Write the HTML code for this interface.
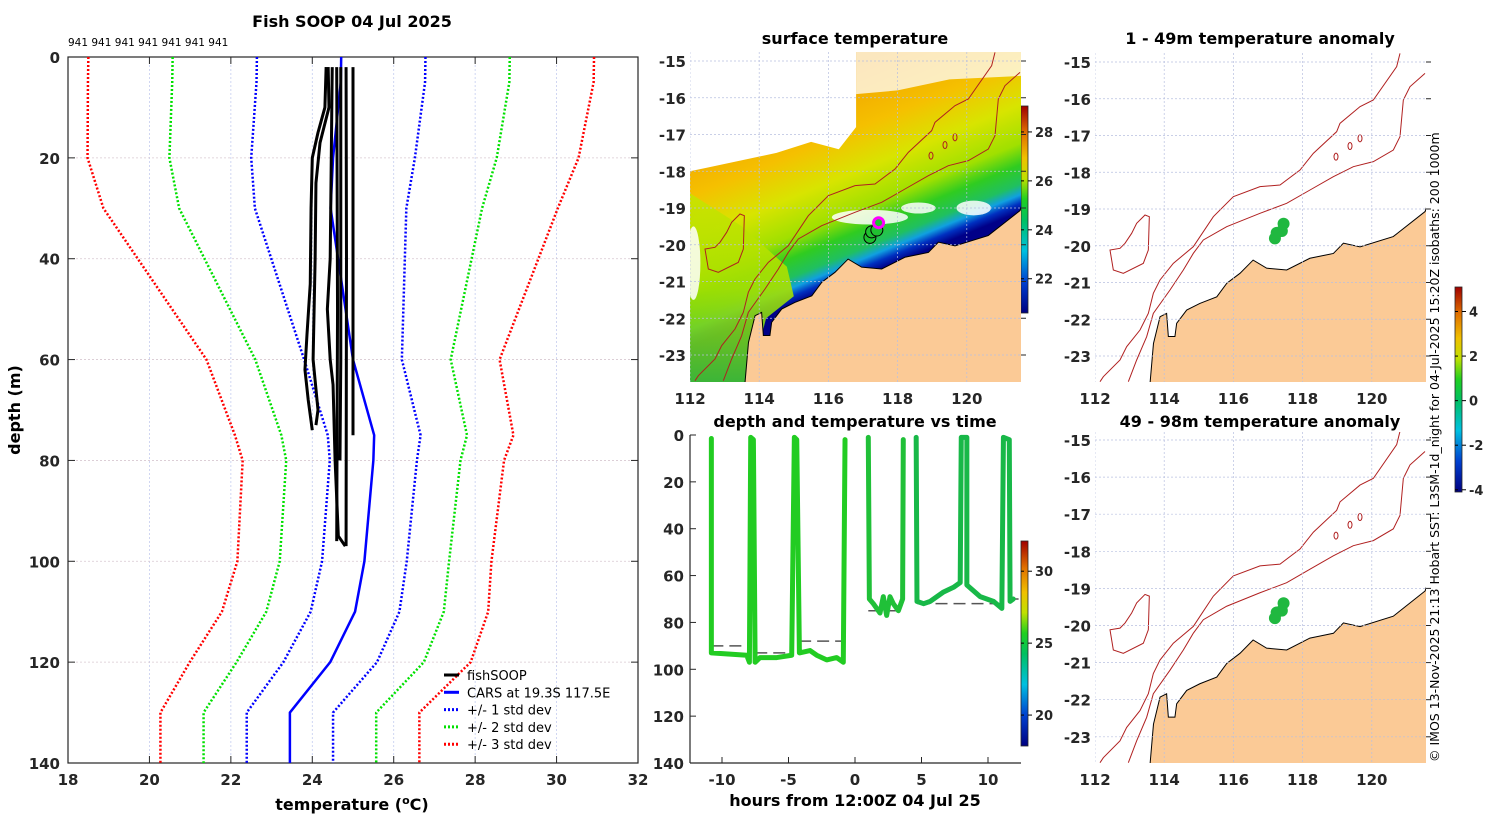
<!DOCTYPE html>
<html><head><meta charset="utf-8">
<style>
html,body{margin:0;padding:0;background:#fff;width:1500px;height:820px;overflow:hidden}
svg{display:block;font-family:"DejaVu Sans","Liberation Sans",sans-serif}
.tk{font-size:15px;font-weight:bold;fill:#262626}
.ttl{font-size:16px;font-weight:bold;fill:#000}
.lg{font-size:13px;fill:#000}
</style></head>
<body>
<svg id="s" width="1500" height="820" viewBox="0 0 1500 820" xmlns="http://www.w3.org/2000/svg">
<defs>
<linearGradient id="jetV" x1="0" y1="1" x2="0" y2="0">
<stop offset="0" stop-color="#000080"/><stop offset="0.15" stop-color="#0040d0"/><stop offset="0.3" stop-color="#00c0e0"/><stop offset="0.45" stop-color="#00c060"/><stop offset="0.55" stop-color="#20d020"/><stop offset="0.65" stop-color="#c0e000"/><stop offset="0.75" stop-color="#f0c000"/><stop offset="0.87" stop-color="#e07000"/><stop offset="1" stop-color="#a00000"/>
</linearGradient>
<linearGradient id="sstG" gradientUnits="userSpaceOnUse" x1="825" y1="77" x2="900" y2="261">
<stop offset="0" stop-color="#f0a000"/><stop offset="0.3" stop-color="#f5c000"/><stop offset="0.5" stop-color="#d8e400"/><stop offset="0.68" stop-color="#a0e000"/><stop offset="0.78" stop-color="#30cc20"/><stop offset="0.87" stop-color="#20c060"/><stop offset="0.92" stop-color="#10a0e0"/><stop offset="0.96" stop-color="#0030c0"/><stop offset="1" stop-color="#000088"/>
</linearGradient>
<linearGradient id="swG" x1="0" y1="0" x2="0" y2="1">
<stop offset="0" stop-color="#c8e400"/><stop offset="0.5" stop-color="#a8e000"/><stop offset="1" stop-color="#40c830"/>
</linearGradient>
<clipPath id="c1"><rect x="690" y="52" width="331" height="330"/></clipPath>
<clipPath id="c2"><rect x="1095" y="53" width="331" height="329"/></clipPath>
<clipPath id="c3"><rect x="1095" y="432" width="331" height="331"/></clipPath>
</defs>
<text x="352" y="27" text-anchor="middle" class="ttl">Fish SOOP 04 Jul 2025</text>
<text x="68" y="46" style="font-size:10.5px">941 941 941 941 941 941 941</text>
<text transform="translate(20,410) rotate(-90)" text-anchor="middle" class="ttl">depth (m)</text>
<text x="352" y="810" text-anchor="middle" class="ttl">temperature (<tspan dy="-6" style="font-size:11px">o</tspan><tspan dy="6">C)</tspan></text>
<text x="855" y="44" text-anchor="middle" class="ttl">surface temperature</text>
<text x="855" y="427" text-anchor="middle" class="ttl">depth and temperature vs time</text>
<text x="855" y="806" text-anchor="middle" class="ttl">hours from 12:00Z 04 Jul 25</text>
<text x="1260" y="44" text-anchor="middle" class="ttl">1 - 49m temperature anomaly</text>
<text x="1260" y="427" text-anchor="middle" class="ttl">49 - 98m temperature anomaly</text>
<text transform="translate(1439,762) rotate(-90)" style="font-size:12.5px">© IMOS 13-Nov-2025 21:13 Hobart SST: L3SM-1d_night for 04-Jul-2025 15:20Z isobaths: 200  1000m</text>
<g id="g"></g>
</svg>
<script>
// ---------- profile panel data ----------
const carsDepth=[0,5,20,30,60,75,80,100,110,120,130,140];
const carsMean=[24.71,24.7,24.51,24.45,25.0,25.52,25.5,25.28,25.05,24.44,23.45,23.45];
const carsStd=[2.07,2.07,2.01,1.86,1.2,1.14,1.07,1.04,1.09,1.15,1.06,1.06];
const prof1Depth=[2,75];const prof1Temp=[25.0,25.0];
const prof2Depth=[2,40,97];const prof2Temp=[24.83,24.84,24.83];
const prof3Depth=[2,60,80];const prof3Temp=[24.7,24.7,24.68];
const prof4Depth=[2,50,96];const prof4Temp=[24.6,24.62,24.6];
const prof5Depth=[2,10,15,20,30,45,55,62,68,74];const prof5Temp=[24.34,24.31,24.14,24.0,23.97,23.95,23.87,23.82,23.9,24.0];
const prof6Depth=[2,10,17,25,40,60,70,73];const prof6Temp=[24.39,24.41,24.19,24.09,24.07,24.02,24.14,24.09];
const prof7Depth=[2,40,50,60,65,80,95,97];const prof7Temp=[24.49,24.44,24.37,24.44,24.51,24.56,24.64,24.81];
const tempTicks=[18,20,22,24,26,28,30,32];
const depthTicks=[0,20,40,60,80,100,120,140];
// ---------- time panel data ----------
const tHours=[-10.8,-10.8,-8.14,-7.94,-7.84,-7.64,-7.51,-7.14,-5.88,-4.76,-4.56,-4.38,-4.18,-3.38,-2.88,-2.13,-1.38,-0.88,-0.75];
const tDepth=[1.5,93,94,97,1,2,97,95,95,94,1,2,93,92,94,96,95,97,2];
const t2Hours=[1.0,1.08,1.38,1.88,2.13,2.38,2.63,2.88,3.26,3.58,3.63];
const t2Depth=[1,70,72,76,69,77,69,72,75,70,2];
const t3Hours=[4.6,4.66,5.16,5.66,6.66,7.41,7.91,7.99,8.41,8.41,9.41,10.41,11.04,11.16,11.6,11.66,11.9];
const t3Depth=[1,71,72,71,67,65,63,1,1,64,69,71,74,1,2,71,70];
const bottomStart=[-10.8,-7.5,-4.2,1.0,4.7,11.5];
const bottomEnd=[-8.0,-4.7,-0.9,3.6,11.0,12.3];
const bottomDepth=[90,93,88,75,72,70];
const hourTicks=[-10,-5,0,5,10];
const tdTicks=[0,20,40,60,80,100,120,140];
// ---------- map data ----------
const coastLon=[121.6,121.54,120.62,119.66,119.18,118.89,118.21,117.54,116.96,116.57,116.19,115.81,115.52,115.03,114.65,114.36,114.31,114.12,114.07,113.88,113.69,113.59];
const coastLat=[-18.9,-19.07,-19.75,-20.03,-19.93,-20.21,-20.34,-20.66,-20.61,-20.39,-20.75,-21.02,-21.39,-21.57,-21.75,-22.11,-22.47,-22.47,-21.84,-21.93,-22.66,-23.75];
const iso1000Z=[[1020,70],[1010,110],[940,210],[900,230],[840,280],[830,305],[760,370],[720,420],[660,465],[600,470],[520,500],[460,560],[420,620],[400,650],[340,700],[300,750],[280,790],[265,850],[240,900],[200,950],[180,990],[130,1040],[120,1055]];
const iso200Z=[[1095,130],[1050,170],[1030,210],[1020,320],[1000,360],[940,395],[880,410],[820,440],[750,480],[680,520],[600,550],[500,590],[430,630],[400,670],[370,720],[330,780],[280,850],[260,920],[230,990],[205,1055]];
const islandZ=[[150,660],[160,720],[190,730],[250,700],[265,660],[268,560],[255,555],[230,580],[215,610],[195,640],[180,655]];
const obsLon=[117.2,117.25,117.4,117.45];
const obsLat=[-19.8,-19.65,-19.6,-19.4];
const lonTicks=[112,114,116,118,120];
const latTicks=[-15,-16,-17,-18,-19,-20,-21,-22,-23];

const G=document.getElementById('g');
const NS='http://www.w3.org/2000/svg';
function mk(tag,at,parent){const e=document.createElementNS(NS,tag);for(const k in at)e.setAttribute(k,at[k]);(parent||G).appendChild(e);return e;}
function txt(x,y,s,cls,anchor,parent){const e=mk('text',{x:x,y:y,class:cls,'text-anchor':anchor||'middle'},parent);e.textContent=s;return e;}

// ===== profile panel =====
const PX0=68,PX1=638,PY0=57,PY1=763;
const xT=t=>PX0+(t-18)/(32-18)*(PX1-PX0);
const yD=d=>PY0+d/140*(PY1-PY0);
const pax=mk('g',{});


tempTicks.forEach(t=>{
  if(t>18&&t<32){const l=mk('line',{x1:xT(t),x2:xT(t),y1:PY0,y2:PY1,stroke:'#c4cdf0','stroke-width':0.8,'stroke-dasharray':'2,2'},pax);}
  mk('line',{x1:xT(t),x2:xT(t),y1:PY1,y2:PY1-7,stroke:'#262626'},pax);mk('line',{x1:xT(t),x2:xT(t),y1:PY0,y2:PY0+7,stroke:'#262626'},pax);
  const e=txt(xT(t),PY1+22,String(t),'tk','middle',pax);
});
depthTicks.forEach(d=>{
  if(d>0&&d<140){const l=mk('line',{x1:PX0,x2:PX1,y1:yD(d),y2:yD(d),stroke:'#d8c8d0','stroke-width':0.8,'stroke-dasharray':'2,2'},pax);}
  mk('line',{x1:PX0,x2:PX0+7,y1:yD(d),y2:yD(d),stroke:'#262626'},pax);mk('line',{x1:PX1,x2:PX1-7,y1:yD(d),y2:yD(d),stroke:'#262626'},pax);
  const e=txt(PX0-8,yD(d)+6,String(d),'tk','end',pax);
});
mk('rect',{x:PX0,y:PY0,width:PX1-PX0,height:PY1-PY0,fill:'none',stroke:'#262626','stroke-width':1.2},pax);
function pline(temps,depths,color,w,dash,name){
  const p=mk('polyline',{points:temps.map((t,i)=>xT(t)+','+yD(depths[i])).join(' '),fill:'none',stroke:color,'stroke-width':w,'stroke-linejoin':'round'});
  if(dash)p.setAttribute('stroke-dasharray',dash);
  
  
}
[[3,'#ff0000'],[2,'#00e000'],[1,'#0000ff']].forEach(([k,c])=>{
  pline(carsMean.map((m,i)=>m-k*carsStd[i]),carsDepth,c,2.5,'2,2','cars-minus-'+k+'-std');
  pline(carsMean.map((m,i)=>m+k*carsStd[i]),carsDepth,c,2.5,'2,2','cars-plus-'+k+'-std');
});
pline(carsMean,carsDepth,'#0000ff',2.5,null,'cars-mean-line');
[[prof1Temp,prof1Depth],[prof2Temp,prof2Depth],[prof3Temp,prof3Depth],[prof4Temp,prof4Depth],[prof5Temp,prof5Depth],[prof6Temp,prof6Depth],[prof7Temp,prof7Depth]].forEach((p,i)=>pline(p[0],p[1],'#000',3,null,'fishsoop-profile-'+(i+1)));
const legItems=[['fishSOOP','#000',null],['CARS at 19.3S 117.5E','#0000ff',null],['+/- 1 std dev','#0000ff','2,2'],['+/- 2 std dev','#00e000','2,2'],['+/- 3 std dev','#ff0000','2,2']];
const lg=mk('g',{});


legItems.forEach((it,i)=>{const y=675+i*17.3;
  const l=mk('line',{x1:444,x2:459,y1:y,y2:y,stroke:it[1],'stroke-width':3},lg);if(it[2])l.setAttribute('stroke-dasharray',it[2]);
  const t=txt(467,y+5,it[0],'lg','start',lg);});

// ===== time panel =====
const TX0=690,TX1=1021,TY0=435,TY1=763;
const xH=h=>722+(h+10)*(988-722)/20;
const yTD=d=>TY0+d/140*(TY1-TY0);
const tax=mk('g',{});


mk('line',{x1:TX0,x2:TX0,y1:TY0,y2:TY1,stroke:'#262626','stroke-width':1.2},tax);
mk('line',{x1:TX0,x2:TX1,y1:TY1,y2:TY1,stroke:'#262626','stroke-width':1.2},tax);
hourTicks.forEach(h=>{mk('line',{x1:xH(h),x2:xH(h),y1:TY1,y2:TY1-6,stroke:'#262626'},tax);const e=txt(xH(h),TY1+22,String(h),'tk','middle',tax);});
tdTicks.forEach(d=>{mk('line',{x1:TX0,x2:TX0+6,y1:yTD(d),y2:yTD(d),stroke:'#262626'},tax);const e=txt(TX0-6,yTD(d)+6,String(d),'tk','end',tax);});
bottomDepth.forEach((d,i)=>{const l=mk('line',{x1:xH(bottomStart[i]),x2:xH(bottomEnd[i]),y1:yTD(d),y2:yTD(d),stroke:'#555','stroke-width':1.5,'stroke-dasharray':'12,6'});
  
  });
function tline(hs,ds,col,name){const p=mk('polyline',{points:hs.map((h,i)=>xH(h)+','+yTD(ds[i])).join(' '),fill:'none',stroke:col,'stroke-width':5,'stroke-linejoin':'round','stroke-linecap':'round'});
  
  }
tline(tHours,tDepth,'#22cc22','track-segment-1');
tline(t2Hours,t2Depth,'#20c038','track-segment-2');
tline(t3Hours,t3Depth,'#18b848','track-segment-3');

function cbar(x,y0,y1,vmin,vmax,ticks,name){
  const g=mk('g',{});
  
  
  mk('rect',{x:x,y:y0,width:7,height:y1-y0,fill:'url(#jetV)',stroke:'#262626','stroke-width':0.8},g);
  ticks.forEach(v=>{const y=y1-(v-vmin)/(vmax-vmin)*(y1-y0);mk('line',{x1:x,x2:x+3,y1:y,y2:y,stroke:'#000'},g);mk('line',{x1:x+7,x2:x+11,y1:y,y2:y,stroke:'#000'},g);txt(x+14,y+5,String(v),'tk','start',g).style.fontSize='13px';});
}
cbar(1021,541,746,17.85,32.1,[20,25,30],'time-colorbar');
cbar(1021,106,313,20.6,29.06,[22,24,26,28],'sst-colorbar');
cbar(1455,287,492,-4.1,5.1,[-4,-2,0,2,4],'anomaly-colorbar');

// ===== maps =====
function mapPanel(x0,y15,ky,top,bottom,clip,sst,name){
  const X=lon=>x0+(lon-112)*34.6, Y=lat=>y15+(-15-lat)*ky;
  const zx=z=>{const px=z/3+1060; return 112+(px-1095)/34.6;};
  const zy=z=>{const py=z/3+30; return -15-(py-62)/36.75;};
  const g=mk('g',{});
  
  
  const c=mk('g',{'clip-path':'url(#'+clip+')'},g);
  const W=331,H=bottom-top;
  if(sst){
    mk('rect',{x:x0,y:top,width:W,height:H,fill:'url(#sstG)'},c);
    const sw=[[112,-18.6],[113.5,-19.5],[114.8,-20.6],[115.0,-21.4],[114.2,-22],[113.7,-23.8],[112,-23.8]];
    mk('polygon',{points:sw.map(p=>X(p[0])+','+Y(p[1])).join(' '),fill:'url(#swG)',opacity:0.9},c);
    const cl=[[112,-14.7],[116.8,-14.7],[116.8,-16.8],[116.3,-17.4],[115.5,-17.2],[114.5,-17.5],[113.5,-17.7],[112.5,-17.9],[112,-18.0]];
    mk('polygon',{points:cl.map(p=>X(p[0])+','+Y(p[1])).join(' '),fill:'#fff'},c);
    const cl2=[[116.8,-14.7],[121.7,-14.7],[121.7,-15.4],[119.5,-15.5],[118,-15.8],[116.8,-15.9]];
    mk('polygon',{points:cl2.map(p=>X(p[0])+','+Y(p[1])).join(' '),fill:'#fff',opacity:0.75},c);
    [[117.2,-19.25,1.1,0.2],[118.6,-19.0,0.5,0.15],[120.2,-19.0,0.5,0.2],[112.1,-20.5,0.2,1.0],[114.6,-15.9,0.6,0.5]].forEach(e=>mk('ellipse',{cx:X(e[0]),cy:Y(e[1]),rx:e[2]*34.6,ry:e[3]*ky,fill:'#fff',opacity:0.85},c));
  }
  const land=coastLon.map((l,i)=>X(l)+','+Y(coastLat[i])).join(' ')+' '+X(121.8)+','+Y(-23.9)+' '+X(121.8)+','+Y(-18.9);
  mk('polygon',{points:land,fill:'#fbca96',stroke:'#000','stroke-width':1},c);
  [iso1000Z,iso200Z].forEach(arr=>mk('polyline',{points:arr.map(p=>X(zx(p[0]))+','+Y(zy(p[1]))).join(' '),fill:'none',stroke:'#b02020','stroke-width':1},c));
  mk('polygon',{points:islandZ.map(p=>X(zx(p[0]))+','+Y(zy(p[1]))).join(' '),fill:'none',stroke:'#b02020','stroke-width':1},c);
  [[828,380],[870,348],[900,325]].forEach(p=>mk('ellipse',{cx:X(zx(p[0])),cy:Y(zy(p[1])),rx:2,ry:3.5,fill:'none',stroke:'#b02020'},c));
  lonTicks.forEach(l=>{mk('line',{x1:X(l),x2:X(l),y1:top,y2:bottom,stroke:'#b8c0e0','stroke-width':0.7,'stroke-dasharray':'2,2'},c);
    const t=txt(X(l),bottom+22,String(l),'tk','middle',g);});
  latTicks.forEach(l=>{mk('line',{x1:x0,x2:x0+W,y1:Y(l),y2:Y(l),stroke:'#b8c0e0','stroke-width':0.7,'stroke-dasharray':'2,2'},c);
    mk('line',{x1:x0+W,x2:x0+W+5,y1:Y(l),y2:Y(l),stroke:'#262626'},g);
    const t=txt(x0-4,Y(l)+6,String(l),'tk','end',g);});
  obsLon.forEach((lo,i)=>{
    if(sst){const ci=mk('circle',{cx:X(lo),cy:Y(obsLat[i]),r:i==3?5:6,fill:'#20c030',stroke:i==3?'#ff00ff':'#000','stroke-width':i==3?3:1},c);}
    else{const ci=mk('circle',{cx:X(lo),cy:Y(obsLat[i]),r:6,fill:'#20b840'},c);}
  });
}
mapPanel(690,61,36.75,52,382,'c1',true,'sst-map');
mapPanel(1095,62,36.75,53,382,'c2',false,'anomaly-map-shallow');
mapPanel(1095,440,37.1,432,763,'c3',false,'anomaly-map-deep');
</script>
</body></html>
